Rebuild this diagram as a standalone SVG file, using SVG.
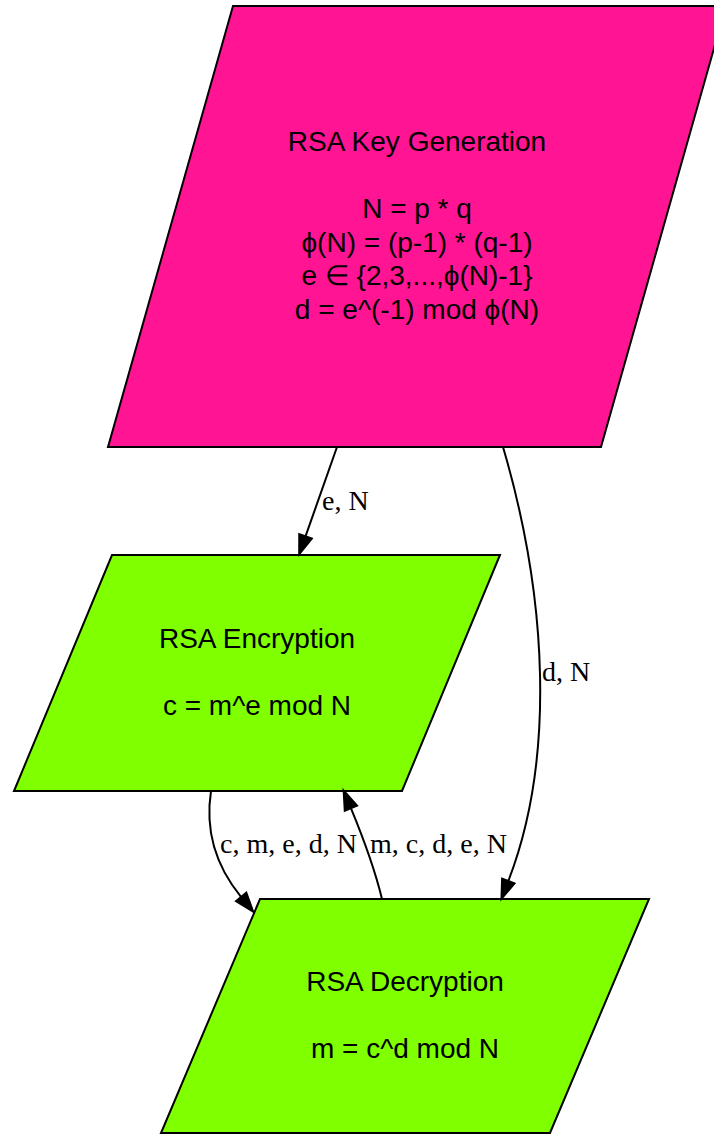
<svg xmlns="http://www.w3.org/2000/svg" width="714" height="1134" viewBox="0 0 714 1134">
  <defs>
    <marker id="arrow" markerUnits="userSpaceOnUse" markerWidth="22" markerHeight="16" refX="0" refY="7" orient="auto" overflow="visible">
      <path d="M0,0 L20,7 L0,14 Z" fill="#000" stroke="#000" stroke-width="1.5"/>
    </marker>
    <style>
      .node { stroke: #000; stroke-width: 2; }
      .keygen { fill: #ff1493; }
      .step { fill: #7fff00; }
      .ntext { font-family: "Liberation Sans", Arial, sans-serif; font-size: 28px; fill: #000; text-anchor: middle; }
      .edge { fill: none; stroke: #000; stroke-width: 2; marker-end: url(#arrow); }
      .elabel { font-family: "Liberation Serif", "Times New Roman", serif; font-size: 28px; fill: #000; }
    </style>
  </defs>
  <rect width="714" height="1134" fill="#fff"/>

  <g id="keygen">
    <polygon class="node keygen" points="233,6 726,6 601,447 108,447"/>
    <text class="ntext" x="417" y="151">RSA Key Generation</text>
    <text class="ntext" x="417" y="218">N = p * q</text>
    <text class="ntext" x="417" y="252">ϕ(N) = (p-1) * (q-1)</text>
    <text class="ntext" x="417" y="285">e ∈ {2,3,...,ϕ(N)-1}</text>
    <text class="ntext" x="417" y="319">d = e^(-1) mod ϕ(N)</text>
  </g>

  <g id="encryption">
    <polygon class="node step" points="112,555 500,555 402,791 14,791"/>
    <text class="ntext" x="257" y="648">RSA Encryption</text>
    <text class="ntext" x="257" y="715">c = m^e mod N</text>
  </g>

  <g id="decryption">
    <polygon class="node step" points="260,899 649,899 550,1133 161,1133"/>
    <text class="ntext" x="405" y="991">RSA Decryption</text>
    <text class="ntext" x="405" y="1058">m = c^d mod N</text>
  </g>

  <g id="connectors">
    <path class="edge" d="M337,447 L305.6,536.1"/>
    <text class="elabel" x="322" y="510">e, N</text>

    <path class="edge" d="M503,447 C548,600 555,760 508.4,880.8"/>
    <text class="elabel" x="542" y="681">d, N</text>

    <path class="edge" d="M211,791 C205,830 215,865 241,896.8"/>
    <text class="elabel" x="220" y="853">c, m, e, d, N</text>

    <path class="edge" d="M382,899 C375,870 362,835 351,808.4"/>
    <text class="elabel" x="370" y="853">m, c, d, e, N</text>
  </g>
</svg>
